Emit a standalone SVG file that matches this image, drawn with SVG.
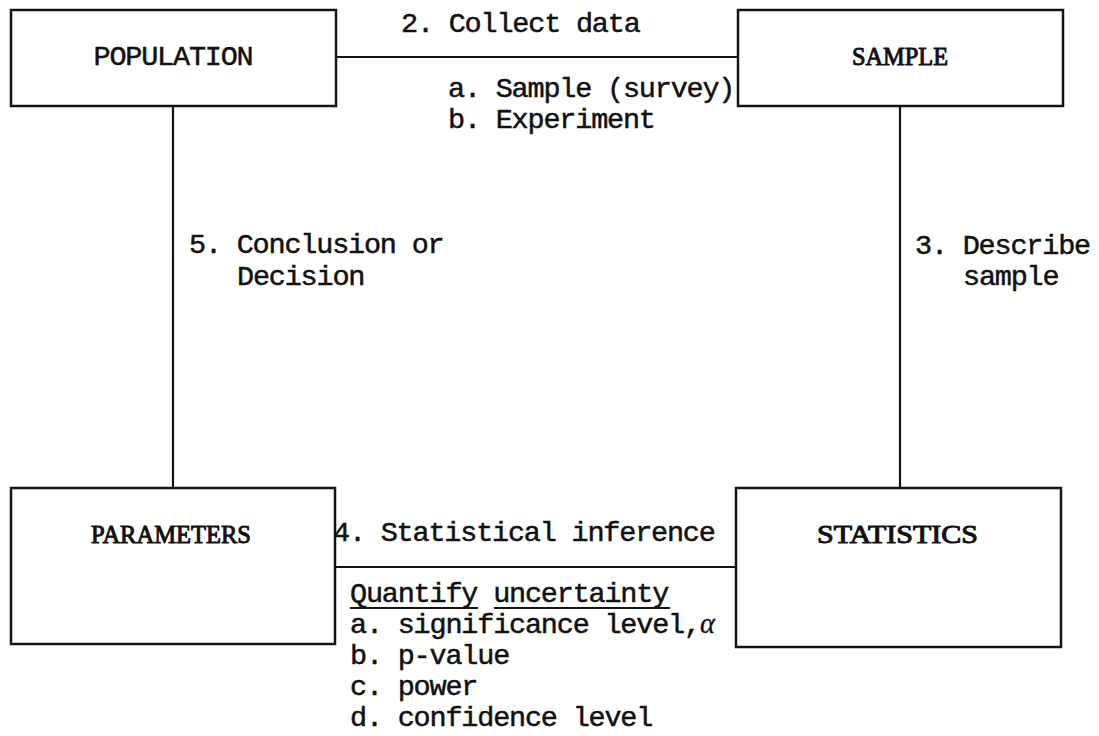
<svg xmlns="http://www.w3.org/2000/svg" width="1099" height="736" viewBox="0 0 1099 736">
<style>
.box{fill:#fff;stroke:#141414;stroke-width:2.5}
.ln{stroke:#141414;stroke-width:2.2;fill:none}
.t{font-family:"Liberation Mono","DejaVu Sans Mono",monospace;font-size:28.5px;letter-spacing:-1.2px;fill:#111;stroke:#111;stroke-width:0.5}
.h{font-family:"Liberation Serif","DejaVu Serif",serif;font-size:26px;fill:#111;stroke:#111;stroke-width:1}
.al{font-family:"Liberation Serif","DejaVu Serif",serif;font-style:italic;stroke-width:0.3}
</style>
<rect width="1099" height="736" fill="#fff"/>
<g id="connectors">
<line class="ln" x1="336" y1="57" x2="738" y2="57"/>
<line class="ln" x1="173" y1="106" x2="173" y2="488"/>
<line class="ln" x1="900" y1="106" x2="900" y2="488"/>
<line class="ln" x1="335" y1="567" x2="736" y2="567"/>
</g>
<g id="population">
<rect class="box" x="11" y="10" width="325" height="96"/>
<text class="t" x="173" y="65" text-anchor="middle">POPULATION</text>
</g>
<g id="sample">
<rect class="box" x="738" y="10" width="325" height="96"/>
<text class="h" x="852" y="65" textLength="96" lengthAdjust="spacingAndGlyphs">SAMPLE</text>
</g>
<g id="parameters">
<rect class="box" x="11" y="488" width="324" height="156"/>
<text class="h" x="91" y="543" textLength="160" lengthAdjust="spacingAndGlyphs">PARAMETERS</text>
</g>
<g id="statistics">
<rect class="box" x="736" y="488" width="325" height="159"/>
<text class="h" x="817" y="543" textLength="161" lengthAdjust="spacingAndGlyphs">STATISTICS</text>
</g>
<g id="labels">
<text class="t" x="401" y="32">2. Collect data</text>
<text class="t" x="448" y="97">a. Sample (survey)</text>
<text class="t" x="448" y="128">b. Experiment</text>
<text class="t" x="189" y="253">5. Conclusion or</text>
<text class="t" x="237" y="285">Decision</text>
<text class="t" x="915" y="254">3. Describe</text>
<text class="t" x="963" y="285">sample</text>
<text class="t" x="333" y="541">4. Statistical inference</text>
<text class="t" x="350" y="602">Quantify uncertainty</text>
<text class="t" x="350" y="633">a. significance level,<tspan class="al">α</tspan></text>
<text class="t" x="350" y="664">b. p-value</text>
<text class="t" x="350" y="695">c. power</text>
<text class="t" x="350" y="726">d. confidence level</text>
<line class="ln" x1="350" y1="608" x2="478" y2="608" stroke-width="1.6"/>
<line class="ln" x1="494" y1="608" x2="670" y2="608" stroke-width="1.6"/>
</g>
</svg>
